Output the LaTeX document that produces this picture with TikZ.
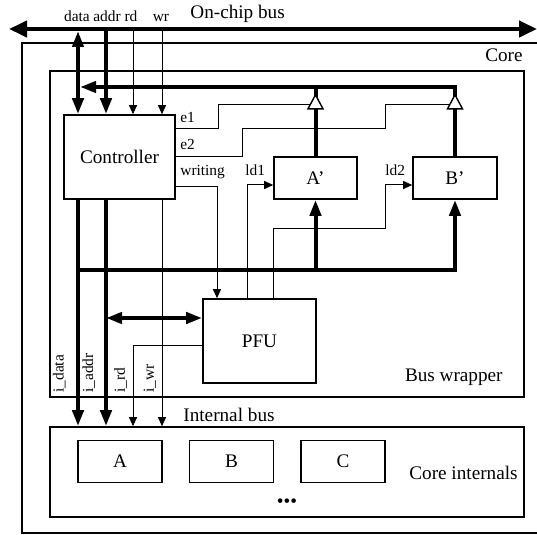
\documentclass[tikz,border=0pt]{standalone}
\usepackage{fontspec}
\setmainfont{Liberation Serif}
\usetikzlibrary{arrows.meta,shapes.geometric}
\newcommand\boxfont{\fontsize{9.6}{11.5}\selectfont}
\newcommand\sigfont{\fontsize{7.7}{9}\selectfont}

\begin{document}
\begin{tikzpicture}[x=0.5pt,y=-0.5pt,>={Triangle[length=8pt,width=5.5pt]},
  frame/.style={draw,line width=0.8pt,inner sep=0pt},
  box/.style={draw,line width=0.8pt,inner sep=0pt,font=\boxfont},
  bus/.style={line width=2pt},
  sig/.style={line width=0.5pt,>={Triangle[length=4.5pt,width=4pt]}},
  buf/.style={draw,fill=white,line width=0.7pt,isosceles triangle,
    isosceles triangle stretches,shape border rotate=90,inner sep=0pt,
    minimum width=7.5pt,minimum height=7pt},
  lbl/.style={font=\sigfont,inner sep=0pt},
  txt/.style={font=\boxfont,inner sep=0pt}]
  \useasboundingbox (0,0) rectangle (537,535);
  % on-chip bus
  \coordinate (busL) at (9,29);
  \coordinate (busR) at (537,29);
  \draw[bus,{Triangle[length=9pt,width=8pt]}-{Triangle[length=9pt,width=8pt]}]
    (busL) -- (busR);
  \node[txt,anchor=base west] (onchip) at (190,18.5) {On-chip bus};
  \coordinate (data) at (78,31);
  \coordinate (addr) at (106,31);
  \coordinate (rd) at (133,31);
  \coordinate (wr) at (162,31);
  \node[lbl,anchor=base] (ldata) at (77,21.5) {data};
  \node[lbl,anchor=base] (laddr) at (107,21.5) {addr};
  \node[lbl,anchor=base] (lrd) at (131,21.5) {rd};
  \node[lbl,anchor=base] (lwr) at (161,21.5) {wr};
  % frames
  \draw[line width=0.8pt] (537,43) -- (22,43) -- (22,533) -- (537,533);
  \node[txt,anchor=base east] (core) at (523,61.5) {Core};
  \node[frame,minimum width=237pt,minimum height=163pt] (wrap) at (287,234) {};
  \node[txt,anchor=base east] (wraplbl) at (503,381.5) {Bus wrapper};
  \node[frame,minimum width=237pt,minimum height=45pt] (intl) at (287,472) {};
  \node[txt,anchor=base east] (intllbl) at (518,479.5) {Core internals};
  \node[txt,anchor=base west] (ibuslbl) at (183,421.7) {Internal bus};
  % blocks
  \node[box,minimum width=55.5pt,minimum height=42pt] (ctrl) at (119.5,157) {Controller};
  \node[box,minimum width=56.5pt,minimum height=42pt] (pfu) at (259.5,341) {PFU};
  \node[box,minimum width=41.5pt,minimum height=21pt] (ap) at (315.5,178) {A’};
  \node[box,minimum width=42pt,minimum height=21pt] (bp) at (455,178) {B’};
  \node[box,minimum width=42pt,minimum height=21pt] (a) at (120,461.5) {A};
  \node[box,minimum width=42pt,minimum height=21pt] (b) at (231.5,461.5) {B};
  \node[box,minimum width=42pt,minimum height=21pt] (c) at (343,461.5) {C};
  \node[txt] (dots) at (287,503) {•••};
  % bus to controller
  \draw[bus,<->] (data) -- (data |- ctrl.north);
  \draw[bus,->] (addr) -- (addr |- ctrl.north);
  \draw[sig,->] (rd) -- (rd |- ctrl.north);
  \draw[sig,->] (wr) -- (wr |- ctrl.north);
  % read back through the buffers
  \coordinate (fbk) at (455,87);
  \draw[bus,->,shorten >=1pt] (bp.north) -- (fbk) -- (fbk -| data);
  \draw[bus] (ap.north) -- (ap.north |- fbk);
  \node[buf,anchor=apex] (bufa) at (315.5,93) {};
  \node[buf,anchor=apex] (bufb) at (455,93) {};
  % controller signals
  \draw[sig] ([yshift=-7pt]ctrl.north east) -- ++(21.5pt,0) |- (bufa.west);
  \draw[sig] (ctrl.east) -| (242,129) -- (385,129) |- (bufb.west);
  \draw[sig,->] ([yshift=6.5pt]ctrl.south east) -| ([xshift=-21.25pt]pfu.north);
  \draw[sig,->] ([xshift=-6.25pt]pfu.north) |- ([yshift=-3.5pt]ap.west);
  \draw[sig,->] ([xshift=7pt]pfu.north) |- (385,229) |- ([yshift=-3.5pt]bp.west);
  \node[lbl,anchor=base west] (le1) at (180,122.5) {e1};
  \node[lbl,anchor=base west] (le2) at (180,150) {e2};
  \node[lbl,anchor=base west] (lwrite) at (180,175.5) {writing};
  \node[lbl,anchor=base west] (lld1) at (245,175.5) {ld1};
  \node[lbl,anchor=base west] (lld2) at (385,175.5) {ld2};
  % load bus
  \coordinate (lbus) at (78,270);
  \draw[bus,->] (lbus) -| (bp.south);
  \draw[bus,->] (lbus -| ap.south) -- (ap.south);
  \coordinate (pfuio) at ([yshift=11.5pt]pfu.west);
  \draw[bus,<->] (pfuio) -- (pfuio -| addr);
  % internal bus
  \draw[bus,->] (ctrl.south -| data) -- (data |- intl.north);
  \draw[bus,->] (ctrl.south -| addr) -- (addr |- intl.north);
  \draw[sig,->] (ctrl.south -| wr) -- (wr |- intl.north);
  \draw[sig,->] ([yshift=-2.5pt]pfu.west) -| (rd |- intl.north);
  \node[lbl,rotate=90,anchor=base west] (lidata) at (63.5,393) {i\_data};
  \node[lbl,rotate=90,anchor=base west] (liaddr) at (93,393) {i\_addr};
  \node[lbl,rotate=90,anchor=base west] (lird) at (125,393) {i\_rd};
  \node[lbl,rotate=90,anchor=base west] (liwr) at (154,393) {i\_wr};
\end{tikzpicture}
\end{document}
